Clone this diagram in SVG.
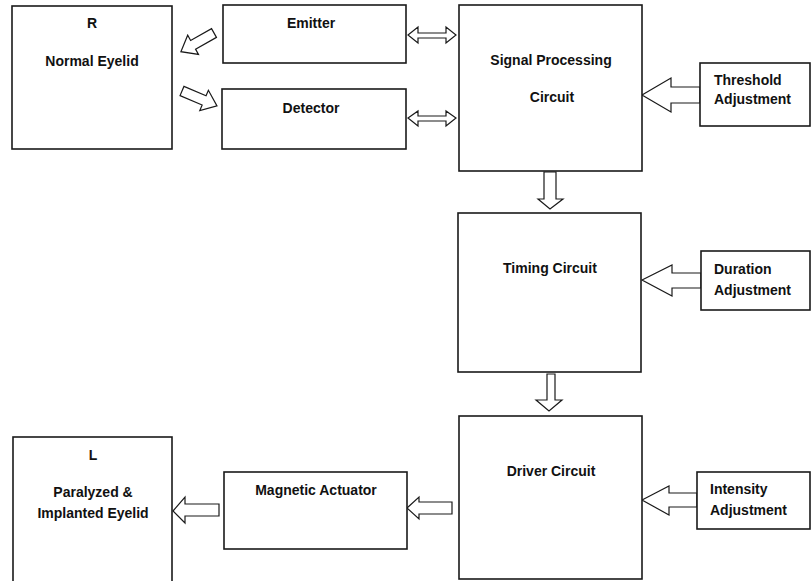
<svg xmlns="http://www.w3.org/2000/svg" width="811" height="581" viewBox="0 0 811 581">
<style>
.box{fill:#fff;stroke:#1a1a1a;stroke-width:1.6}
.arr{fill:#fff;stroke:#1a1a1a;stroke-width:1.2;stroke-linejoin:miter}
text{font-family:"Liberation Sans",Arial,sans-serif;font-weight:bold;font-size:14px;fill:#111}
.c{text-anchor:middle}
</style>
<defs>
<path id="diag" class="arr" d="M0,-5 L24,-5 L24,-11 L38,0 L24,11 L24,5 L0,5 Z"/>
</defs>
<rect width="811" height="581" fill="#fff"/>
<g id="connectors">
<use href="#diag" transform="translate(214,33) rotate(150.6)"/>
<use href="#diag" transform="translate(182,91) rotate(23)"/>
<path class="arr" d="M408,35 L418,27 L418,33 L446,33 L446,27 L456,35 L446,43 L446,38 L418,38 L418,43 Z"/>
<path class="arr" d="M408,118 L418,111 L418,116 L446,116 L446,111 L456,118 L446,126 L446,121 L418,121 L418,126 Z"/>
<path class="arr" d="M642,95 L671,78 L671,87 L700,87 L700,103 L671,103 L671,112 Z"/>
<path class="arr" d="M642,280 L672,265 L672,273 L701,273 L701,288 L672,288 L672,296 Z"/>
<path class="arr" d="M642,500 L669,486 L669,493 L697,493 L697,507 L669,507 L669,515 Z"/>
<path class="arr" d="M407,508 L419,497 L419,502 L452,502 L452,514 L419,514 L419,519 Z"/>
<path class="arr" d="M173,511 L185,497 L185,504 L219,504 L219,516 L185,516 L185,523 Z"/>
<path class="arr" d="M544,172 L556,172 L556,199 L563,199 L550,209 L538,199 L544,199 Z"/>
<path class="arr" d="M547,374 L555,374 L555,400 L562,400 L549,411 L536,400 L547,400 Z"/>
</g>
<g id="normal-eyelid">
<rect class="box" x="12" y="6" width="160" height="143"/>
<text class="c" x="92" y="28">R</text>
<text class="c" x="92" y="66">Normal Eyelid</text>
</g>
<g id="emitter">
<rect class="box" x="223" y="5" width="183" height="58"/>
<text class="c" x="311" y="28">Emitter</text>
</g>
<g id="detector">
<rect class="box" x="222" y="89" width="184" height="60"/>
<text class="c" x="311" y="113">Detector</text>
</g>
<g id="signal-processing">
<rect class="box" x="459" y="5" width="183" height="166"/>
<text class="c" x="551" y="65">Signal Processing</text>
<text class="c" x="552" y="102">Circuit</text>
</g>
<g id="threshold">
<rect class="box" x="700" y="63" width="110" height="63"/>
<text x="714" y="85">Threshold</text>
<text x="714" y="104">Adjustment</text>
</g>
<g id="timing">
<rect class="box" x="458" y="213" width="183" height="159"/>
<text class="c" x="550" y="273">Timing Circuit</text>
</g>
<g id="duration">
<rect class="box" x="701" y="251" width="109" height="59"/>
<text x="714" y="274">Duration</text>
<text x="714" y="295">Adjustment</text>
</g>
<g id="driver">
<rect class="box" x="459" y="416" width="183" height="163"/>
<text class="c" x="551" y="476">Driver Circuit</text>
</g>
<g id="intensity">
<rect class="box" x="697" y="472" width="113" height="57"/>
<text x="710" y="494">Intensity</text>
<text x="710" y="515">Adjustment</text>
</g>
<g id="magnetic-actuator">
<rect class="box" x="224" y="472" width="183" height="77"/>
<text class="c" x="316" y="495">Magnetic Actuator</text>
</g>
<g id="paralyzed-eyelid">
<rect class="box" x="13" y="437" width="159" height="150"/>
<text class="c" x="93" y="460">L</text>
<text class="c" x="93" y="497">Paralyzed &amp;</text>
<text class="c" x="93" y="518">Implanted Eyelid</text>
</g>
</svg>
